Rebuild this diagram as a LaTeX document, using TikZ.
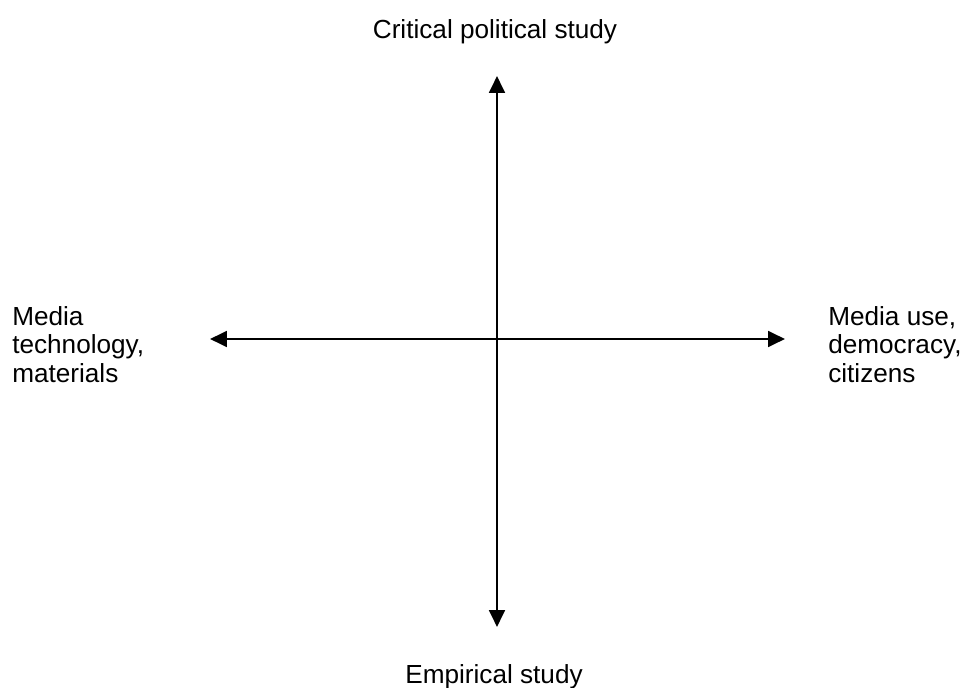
\documentclass[tikz,border=0pt]{standalone}
\usepackage{fontspec}
\setmainfont{Liberation Sans}
\usetikzlibrary{arrows.meta}
\tikzstyle{axlabel}=[font=\fontsize{18.6}{20.1}\selectfont, inner sep=0pt]
\tikzstyle{axis}=[{Triangle[length=4.2mm,width=3.9mm]}-{Triangle[length=4.2mm,width=3.9mm]}, line width=1.8pt]
\begin{document}
\begin{tikzpicture}[x=0.025cm,y=-0.025cm]
\useasboundingbox (0,0) rectangle (968,688);
\coordinate (T) at (497,76);
\coordinate (B) at (497,627);
\coordinate (L) at (210,339);
\coordinate (R) at (785,339);
\node[axlabel,anchor=base] (crit) at (495,39) {Critical political study};
\node[axlabel,anchor=base] (emp) at (494,683) {Empirical study};
\node[axlabel,anchor=west,align=left] (tech) at (12,344.5) {Media\\technology,\\materials};
\node[axlabel,anchor=west,align=left] (use) at (828,344.5) {Media use,\\democracy,\\citizens};
\draw[axis](T)--(B);
\draw[axis](L)--(R);
\end{tikzpicture}
\end{document}
